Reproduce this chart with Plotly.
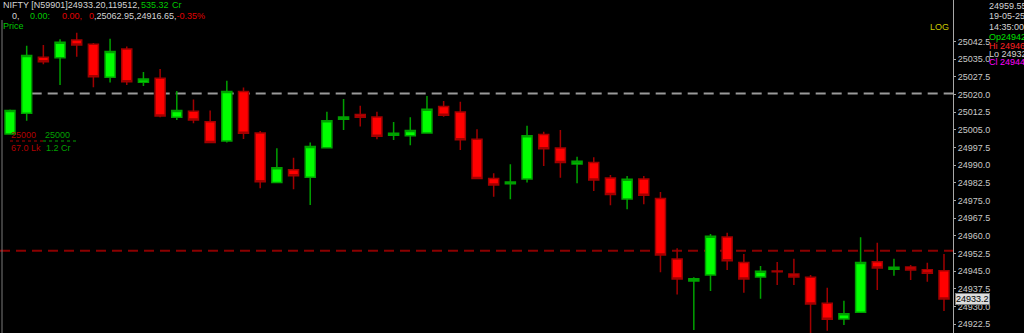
import plotly.graph_objects as go

# ---- data ----
bars = list(range(57))
opens = [25003.3, 25012.1, 25035.9, 25035.7, 25043.2, 25041.4, 25027.4, 25039.4, 25025.2, 25026.9,
         25010.4, 25012.9, 25008.5, 25000.3, 25021.3, 25003.7, 24982.6, 24988.1, 24984.9, 24997.4,
         25009.5, 25011.5, 25010.5, 25002.7, 25002.5, 25003.7, 25014.9, 25012.6, 25001.0, 24984.3,
         24982.1, 24984.1, 25003.1, 24997.3, 24990.5, 24991.2, 24984.6, 24975.6, 24984.1, 24975.9,
         24950.1, 24940.8, 24943.3, 24959.5, 24948.7, 24942.5, 24945.0, 24943.8, 24942.4, 24931.3,
         24924.6, 24927.5, 24949.0, 24945.8, 24946.7, 24945.6, 24945.2]
highs = [25013.7, 25040.8, 25041.1, 25043.5, 25046.3, 25041.9, 25043.7, 25040.4, 25029.6, 25030.9,
         25021.5, 25017.9, 25013.2, 25025.9, 25023.0, 25004.5, 24997.2, 24993.2, 24999.7, 25012.7,
         25018.1, 25015.3, 25012.7, 25008.4, 25010.4, 25019.4, 25017.3, 25017.0, 25005.3, 24986.6,
         24990.4, 25006.8, 25004.2, 25005.0, 24993.6, 24993.4, 24985.8, 24985.4, 24985.4, 24978.6,
         24954.7, 24942.4, 24960.8, 24961.3, 24952.3, 24947.2, 24948.9, 24950.3, 24943.3, 24937.9,
         24932.4, 24959.4, 24957.1, 24950.3, 24947.6, 24948.6, 24952.3]
lows = [25003.0, 25008.9, 25032.9, 25024.1, 25036.1, 25023.1, 25025.1, 25024.1, 25023.7, 25010.4,
        25009.2, 25007.8, 24999.6, 24999.7, 25001.1, 24980.2, 24982.5, 24979.8, 24973.1, 24997.3,
        25005.0, 25006.4, 25001.0, 25000.7, 24998.5, 25003.6, 25010.6, 24996.5, 24984.0, 24976.6,
        24975.5, 24982.7, 24989.7, 24984.7, 24982.3, 24979.0, 24973.0, 24971.3, 24973.4, 24944.5,
        24935.1, 24920.0, 24936.5, 24945.5, 24935.8, 24933.3, 24939.1, 24939.1, 24918.0, 24919.7,
        24922.1, 24927.4, 24937.0, 24943.0, 24941.2, 24940.5, 24928.0]
closes = [25013.2, 25036.6, 25034.0, 25042.3, 25041.1, 25027.6, 25038.3, 25025.5, 25026.6, 25010.9,
          25013.2, 25009.2, 24999.7, 25021.3, 25003.6, 24983.0, 24988.9, 24985.5, 24997.9, 25008.9,
          25010.5, 25010.4, 25002.3, 25003.6, 25004.8, 25013.8, 25011.2, 25000.8, 24984.3, 24981.6,
          24982.9, 25002.5, 24997.0, 24991.1, 24991.7, 24983.7, 24977.5, 24984.0, 24977.2, 24951.8,
          24941.6, 24941.8, 24959.8, 24949.4, 24941.6, 24944.9, 24944.7, 24942.5, 24931.0, 24924.5,
          24926.9, 24948.7, 24946.3, 24946.6, 24945.5, 24944.1, 24933.2]

tick_values = [24922.5, 24930.0, 24937.5, 24945.0, 24952.5, 24960.0, 24967.5, 24975.0, 24982.5,
               24990.0, 24997.5, 25005.0, 25012.5, 25020.0, 25027.5, 25035.0, 25042.5]
tick_labels = [f"{v:.1f}" for v in tick_values]

gray_level = 25020.5
red_level = 24953.7
last_price = 24933.2
y_min, y_max = 24918.7, 25060.2

FONT = "Liberation Sans"

fig = go.Figure()
fig.add_trace(go.Candlestick(
    x=bars, open=opens, high=highs, low=lows, close=closes,
    increasing=dict(fillcolor="#00ff00", line=dict(color="#00a000", width=1.5)),
    decreasing=dict(fillcolor="#ff0000", line=dict(color="#a00000", width=1.5)),
    whiskerwidth=0, hoverinfo="skip", showlegend=False,
))

shapes = [
    dict(type="line", xref="x", yref="y", x0=1.3, x1=56.54, y0=gray_level, y1=gray_level,
         line=dict(color="#9a9a9a", width=2, dash="10px,6px"), layer="below"),
    dict(type="line", xref="paper", yref="y", x0=0, x1=1, y0=red_level, y1=red_level,
         line=dict(color="#8b0000", width=2, dash="10px,6px"), layer="below"),
    dict(type="line", xref="paper", yref="paper", x0=0.0021, x1=0.0021, y0=0, y1=0.94,
         line=dict(color="#7a7a7a", width=1)),
    # dotted separators under the left label
    dict(type="line", xref="paper", yref="paper", x0=10/953, x1=43/953, y0=1-141/333, y1=1-141/333,
         line=dict(color="#b00000", width=1, dash="dot")),
    dict(type="line", xref="paper", yref="paper", x0=43/953, x1=77/953, y0=1-141/333, y1=1-141/333,
         line=dict(color="#00a000", width=1, dash="dot")),
]

def px(x):
    return x / 953.0

def py(y):
    return 1 - y / 333.0

ann = []
def add_text(text, x, y, color, size=9, anchor="left"):
    ann.append(dict(text=text, xref="paper", yref="paper", x=px(x), y=py(y), xanchor=anchor,
                    yanchor="middle", showarrow=False,
                    font=dict(family=FONT, size=size, color=color)))

LG = "#d4d4d4"
GR = "#00c800"
RD = "#e00000"
# header
add_text("NIFTY [N59901]24933.20,119512,", 1, 5, LG)
add_text("535.32", 139, 5, GR)
add_text("Cr", 170, 5, GR)
add_text("0,", 10, 16, LG)
add_text("0.00:", 28, 16, GR)
add_text("0.00,", 60, 16, RD)
add_text(f"<span style='color:{RD}'>0</span>,25062.95,24916.65,<span style='color:{RD}'>-0.35%</span>", 87, 16, LG)
add_text("Price", 1, 26, GR)
# left labels
add_text("25000", 9, 135, "#b00000")
add_text("25000", 43, 135, "#00a000")
add_text("67.0 Lk", 9, 148, "#b00000")
add_text("1.2 Cr", 44, 148, "#00a000")
# LOG
add_text("LOG", 951, 27, "#c8c800", anchor="right")
# right info column
add_text("24959.55", 987, 6, LG)
add_text("19-05-25", 987, 16, LG)
add_text("14:35:00", 987, 27, LG)
add_text("Op24942.", 987, 37, "#00e000")
add_text("Hi 24946.", 987, 46, "#ff2020")
add_text("Lo 24932.", 987, 54, LG)
add_text("Cl 24944.", 987, 62, "#ff00ff")
# last price box
ann.append(dict(text=f"{last_price:.1f}", xref="paper", yref="y", x=px(955), y=last_price,
                xanchor="left", yanchor="middle", showarrow=False, bgcolor="#dcdcdc",
                bordercolor="#808080", borderwidth=1, borderpad=0,
                font=dict(family=FONT, size=9, color="#000000")))

fig.update_layout(
    width=1024, height=333,
    margin=dict(l=0, r=71, t=0, b=0),
    paper_bgcolor="#000000", plot_bgcolor="#000000",
    boxmode="group", boxgap=0.4, boxgroupgap=0,
    shapes=shapes, annotations=ann,
    showlegend=False,
    xaxis=dict(range=[-0.6, 56.54], visible=False, rangeslider=dict(visible=False),
               showgrid=False, zeroline=False, fixedrange=True),
    yaxis=dict(range=[y_min, y_max], side="right", showgrid=False, zeroline=False,
               showline=True, linecolor="#a8a8a8", linewidth=1,
               ticks="outside", ticklen=2, tickcolor="#a8a8a8",
               tickmode="array", tickvals=tick_values, ticktext=tick_labels,
               tickfont=dict(family=FONT, size=9, color="#c8c8c8"), fixedrange=True),
)

fig.write_html("out.html")
